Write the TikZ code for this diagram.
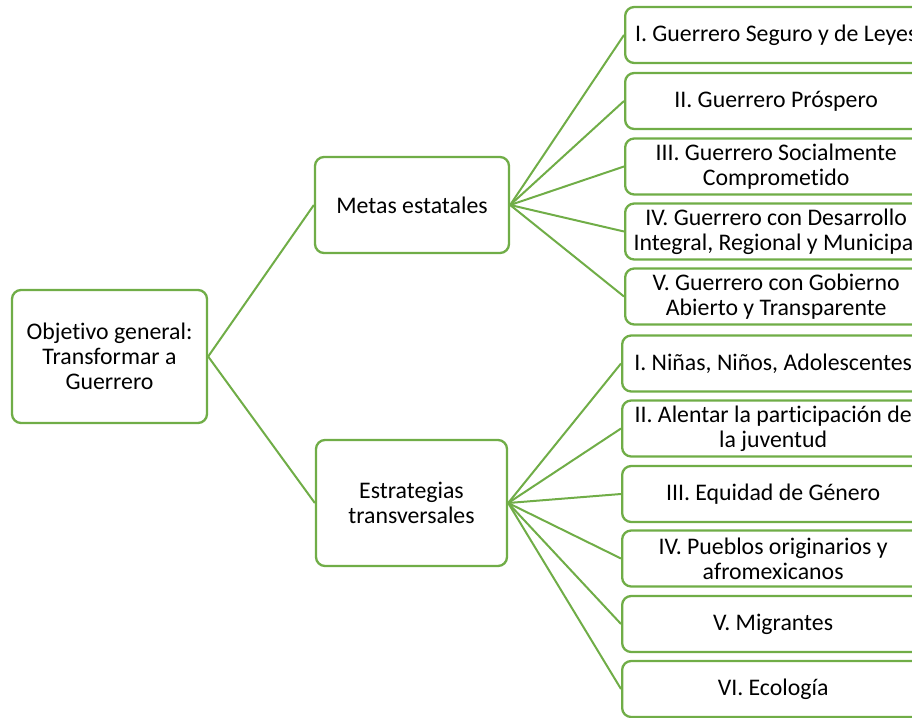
\documentclass[tikz,border=0pt]{standalone}
\usepackage{fontspec}
\setmainfont[Ligatures=NoCommon]{Carlito}
\definecolor{leaf}{HTML}{70AD47}
\begin{document}
\begin{tikzpicture}[x=1pt,y=-1pt,
  box/.style={draw=leaf, line width=2.3pt, rounded corners=9pt, fill=white,
    align=center, inner sep=2pt, font=\fontsize{23.8}{25}\selectfont, text=black},
  leafbox/.style={box, anchor=west, minimum width=302pt, minimum height=56pt},
  link/.style={draw=leaf, line width=2pt}]
\useasboundingbox (0,0) rectangle (912,717);
\clip (0,0) rectangle (912,717);

% main levels
\node[box, minimum width=195pt, minimum height=133pt] (root) at (109.5,356.5)
  {Objetivo general:\\Transformar a\\Guerrero};
\node[box, minimum width=194pt, minimum height=96pt] (metas) at (412,205)
  {Metas estatales};
\node[box, minimum width=191pt, minimum height=126pt] (estr) at (411.5,503)
  {Estrategias\\transversales};

% state goals
\node[leafbox] (m1) at (624,35)    {I. Guerrero Seguro y de Leyes};
\node[leafbox] (m2) at (624,101)   {II. Guerrero Próspero};
\node[leafbox] (m3) at (624,166.5) {III. Guerrero Socialmente\\Comprometido};
\node[leafbox] (m4) at (624,231.5) {IV. Guerrero con Desarrollo\\Integral, Regional y Municipal};
\node[leafbox] (m5) at (624,296.5) {V. Guerrero con Gobierno\\Abierto y Transparente};

% cross-cutting strategies
\node[leafbox] (e1) at (621,363.5) {I. Niñas, Niños, Adolescentes};
\node[leafbox] (e2) at (621,428.5) {II. Alentar la participación de\\la juventud};
\node[leafbox] (e3) at (621,494)   {III. Equidad de Género};
\node[leafbox] (e4) at (621,558.5) {IV. Pueblos originarios y\\afromexicanos};
\node[leafbox] (e5) at (621,624)   {V. Migrantes};
\node[leafbox] (e6) at (621,689)   {VI. Ecología};

% connectors
\path[link] (root.east) -- (metas.west);
\path[link] (root.east) -- (estr.west);
\foreach \n in {m1,m2,m3,m4,m5} \path[link] (metas.east) -- (\n.west);
\foreach \n in {e1,e2,e3,e4,e5,e6} \path[link] (estr.east) -- (\n.west);
\end{tikzpicture}
\end{document}
